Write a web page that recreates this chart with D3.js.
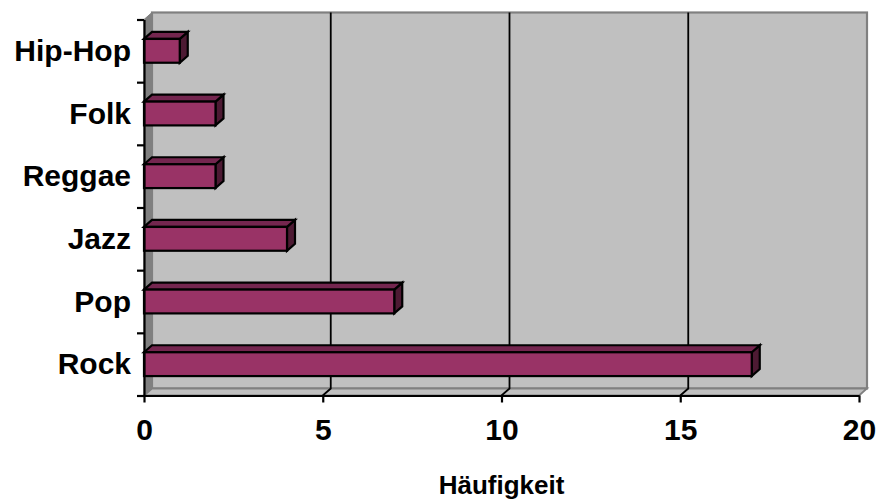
<!DOCTYPE html>
<html>
<head>
<meta charset="utf-8">
<script src="https://cdn.jsdelivr.net/npm/d3@7"></script>
<style>
  html, body { margin: 0; padding: 0; background: #ffffff; }
  svg { display: block; }
  text { font-family: Arial, "Liberation Sans", sans-serif; font-weight: bold; fill: #000; }
</style>
</head>
<body>
<svg id="chart" width="880" height="501"></svg>
<script>
// Music genre frequencies (top to bottom as drawn: Hip-Hop ... Rock)
const categories = ["Rock", "Pop", "Jazz", "Reggae", "Folk", "Hip-Hop"];
const counts = [17, 7, 4, 2, 2, 1];
const tickValues = [0, 5, 10, 15, 20];
const axisTitle = "Häufigkeit";

const svg = d3.select("#chart");

// Front plane of the 3D plot and the depth offset of walls and bars
const plotLeft = 144, plotRight = 859, plotTop = 19.5, plotBottom = 395.5;
const dx = 8, dy = -7;

const x = d3.scaleLinear().domain([0, 20]).range([plotLeft, plotRight]);
const y = d3.scaleBand().domain(categories.slice().reverse()).range([plotTop, plotBottom]);
const yIndex = d3.scaleLinear().domain([0, categories.length]).range([plotBottom, plotTop]);

const barColor = { front: "#993366", face: "#74264f", side: "#4d1a33" };
const wallFill = "#c0c0c0", wallEdge = "#808080", sideWall = "#808080";

const poly = pts => pts.map(p => p.join(",")).join(" ");

// Back wall
svg.append("rect")
  .attr("x", plotLeft + dx).attr("y", plotTop + dy)
  .attr("width", plotRight - plotLeft).attr("height", plotBottom - plotTop)
  .attr("fill", wallFill).attr("stroke", wallEdge).attr("stroke-width", 2.2);

// Left side wall
svg.append("polygon")
  .attr("points", poly([[plotLeft, plotTop], [plotLeft + dx, plotTop + dy], [plotLeft + dx, plotBottom + dy], [plotLeft, plotBottom]]))
  .attr("fill", sideWall).attr("stroke", wallEdge).attr("stroke-width", 1);

// Floor
svg.append("polygon")
  .attr("points", poly([[plotLeft, plotBottom], [plotLeft + dx, plotBottom + dy], [plotRight + dx, plotBottom + dy], [plotRight, plotBottom]]))
  .attr("fill", wallFill).attr("stroke", wallEdge).attr("stroke-width", 1.8);

// Gridlines on the back wall and across the floor
const grid = svg.append("g").attr("stroke", "#000").attr("stroke-width", 1.8).attr("fill", "none");
tickValues.filter(v => v > 0 && v < 20).forEach(v => {
  grid.append("polyline")
    .attr("points", poly([[x(v) + dx, plotTop + dy], [x(v) + dx, plotBottom + dy], [x(v), plotBottom]]));
});

// Bars: right end, top face, front face
const bh = y.bandwidth() * 0.38;
const data = categories.map((c, i) => ({ cat: c, value: counts[i] }));
const bars = svg.append("g").attr("stroke", "#000").attr("stroke-width", 2.2).attr("stroke-linejoin", "miter");
const barY = d => y(d.cat) + y.bandwidth() / 2 - bh / 2;

bars.selectAll("polygon.side").data(data).join("polygon")
  .attr("class", "side")
  .attr("fill", barColor.side)
  .attr("points", d => {
    const y0 = barY(d), x1 = x(d.value);
    return poly([[x1, y0], [x1 + dx, y0 + dy], [x1 + dx, y0 + bh + dy], [x1, y0 + bh]]);
  });

bars.selectAll("polygon.face").data(data).join("polygon")
  .attr("class", "face")
  .attr("fill", barColor.face)
  .attr("points", d => {
    const y0 = barY(d), x0 = x(0), x1 = x(d.value);
    return poly([[x0, y0], [x0 + dx, y0 + dy], [x1 + dx, y0 + dy], [x1, y0]]);
  });

bars.selectAll("rect.front").data(data).join("rect")
  .attr("class", "front")
  .attr("fill", barColor.front)
  .attr("x", x(0))
  .attr("y", barY)
  .attr("width", d => x(d.value) - x(0))
  .attr("height", bh);

// Category axis: line with ticks at band boundaries
const catAxis = svg.append("g")
  .attr("transform", `translate(${plotLeft},0)`)
  .call(d3.axisLeft(yIndex).ticks(categories.length).tickFormat("").tickSizeInner(7).tickSizeOuter(0));
catAxis.select(".domain").attr("stroke", "#000").attr("stroke-width", 2.2);
catAxis.selectAll(".tick line").attr("stroke", "#000").attr("stroke-width", 2.2);

// Category labels
svg.append("g")
  .attr("transform", `translate(${plotLeft},0)`)
  .call(d3.axisLeft(y).tickSize(0).tickPadding(13))
  .call(g => g.select(".domain").remove())
  .selectAll("text")
  .attr("font-size", 30).attr("dy", "0.34em")
  .style("font-family", "Arial, 'Liberation Sans', sans-serif").style("font-weight", "bold");

// Value axis
const valAxis = svg.append("g")
  .attr("transform", `translate(0,${plotBottom})`)
  .call(d3.axisBottom(x).tickValues(tickValues).tickSizeInner(7).tickSizeOuter(0));
valAxis.select(".domain").attr("stroke", "#000").attr("stroke-width", 2.2);
valAxis.selectAll(".tick line").attr("stroke", "#000").attr("stroke-width", 2.2);
valAxis.selectAll("text")
  .attr("y", 44).attr("dy", "0")
  .attr("font-size", 30)
  .style("font-family", "Arial, 'Liberation Sans', sans-serif").style("font-weight", "bold");

// Axis title
svg.append("text")
  .attr("x", x(10)).attr("y", 494)
  .attr("text-anchor", "middle")
  .attr("font-size", 26)
  .text(axisTitle);
</script>
</body>
</html>
